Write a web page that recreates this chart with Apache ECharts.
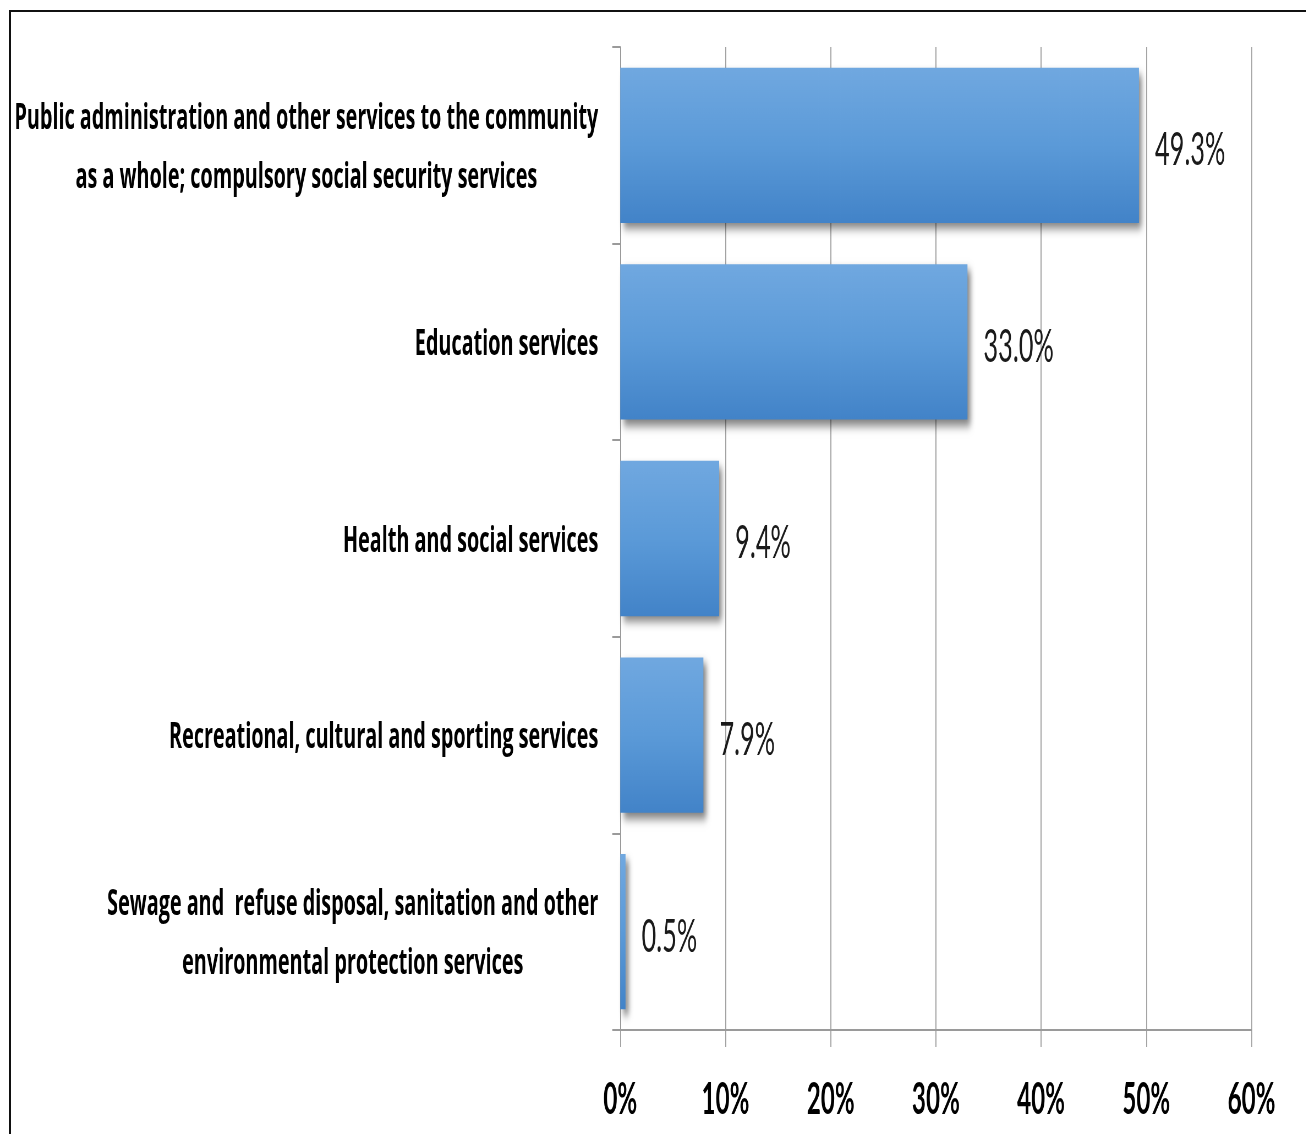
<!DOCTYPE html>
<html>
<head>
<meta charset="utf-8">
<title>Community services share</title>
<script src="https://cdn.jsdelivr.net/npm/echarts@6/dist/echarts.min.js"></script>
<style>
  html, body { margin: 0; padding: 0; background: #fff; overflow: hidden; }
  #wrap { position: relative; width: 1306px; height: 1134px; overflow: hidden; }
  #frame { position: absolute; left: 9px; top: 10px; right: -4px; bottom: -4px;
           border-top: 2px solid #111; border-left: 2px solid #111; }
  #chart { position: absolute; left: 0; top: 0; height: 1134px; transform-origin: 0 0; }
</style>
</head>
<body>
<div id="wrap">
  <div id="frame"></div>
  <div id="chart"></div>
</div>
<script>
// Category names (top to bottom) and their shares in percent
const categories = [
  'Public administration and other services to the community\nas a whole; compulsory social security services',
  'Education services',
  'Health and social services',
  'Recreational, cultural and sporting services',
  'Sewage and  refuse disposal, sanitation and other\nenvironmental protection services'
];
const shares = [49.3, 33.0, 9.4, 7.9, 0.5];
const axisMax = 60;
const axisStep = 10;

// The chart is laid out wide and squeezed horizontally, giving a condensed type look
const SX = 0.55;
const PAGE_W = 1306, PAGE_H = 1134;
const W = PAGE_W / SX;

const el = document.getElementById('chart');
el.style.width = W + 'px';
el.style.transform = 'scaleX(' + SX + ')';

const FONT = 'Lato, "Open Sans", "Liberation Sans", sans-serif';
const CAT_FONT = '"Open Sans", Lato, "Liberation Sans", sans-serif';
const gridColor = '#9a9a9a';

const chart = echarts.init(el, null, { renderer: 'canvas', width: W, height: PAGE_H });

chart.setOption({
  animation: false,
  backgroundColor: 'transparent',
  grid: {
    left: 620 / SX,
    right: W - 1251 / SX,
    top: 47,
    bottom: PAGE_H - 1030,
    containLabel: false
  },
  xAxis: {
    type: 'value',
    min: 0,
    max: axisMax,
    interval: axisStep,
    axisLine: { show: true, lineStyle: { color: gridColor, width: 2 } },
    axisTick: { show: true, length: 17, lineStyle: { color: gridColor, width: 1.8 } },
    splitLine: { show: true, lineStyle: { color: gridColor, width: 1.8 } },
    axisLabel: {
      margin: 48,
      fontFamily: FONT,
      fontSize: 44,
      fontWeight: 'bold',
      color: '#000',
      formatter: '{value}%'
    }
  },
  yAxis: {
    type: 'category',
    data: categories,
    inverse: true,
    axisLine: { show: true, lineStyle: { color: gridColor, width: 1.8 } },
    axisTick: { show: true, length: 8 / SX, lineStyle: { color: gridColor, width: 2 } },
    axisLabel: {
      margin: 22 / SX,
      align: 'right',
      padding: [6, 0, 0, 0],
      // each line is centred within the label block
      formatter: v => v.split('\n').map(line => '{c|' + line + '}').join('\n'),
      rich: {
        c: {
          align: 'center',
          fontFamily: CAT_FONT,
          fontSize: 36,
          fontWeight: 'bold',
          color: '#000',
          lineHeight: 59
        }
      }
    }
  },
  series: [{
    type: 'bar',
    data: shares,
    barCategoryGap: '21%',
    itemStyle: {
      color: new echarts.graphic.LinearGradient(0, 0, 0, 1, [
        { offset: 0, color: '#70a8e0' },
        { offset: 0.5, color: '#5b9ad8' },
        { offset: 1, color: '#4283c8' }
      ]),
      shadowColor: 'rgba(0,0,0,0.5)',
      shadowBlur: 9,
      shadowOffsetX: 3 / SX,
      shadowOffsetY: 6
    },
    label: {
      show: true,
      position: 'right',
      distance: 16 / SX,
      offset: [0, 5],
      fontFamily: FONT,
      fontSize: 46,
      color: '#1a1a1a',
      formatter: p => p.value.toFixed(1) + '%'
    }
  }]
});
</script>
</body>
</html>
